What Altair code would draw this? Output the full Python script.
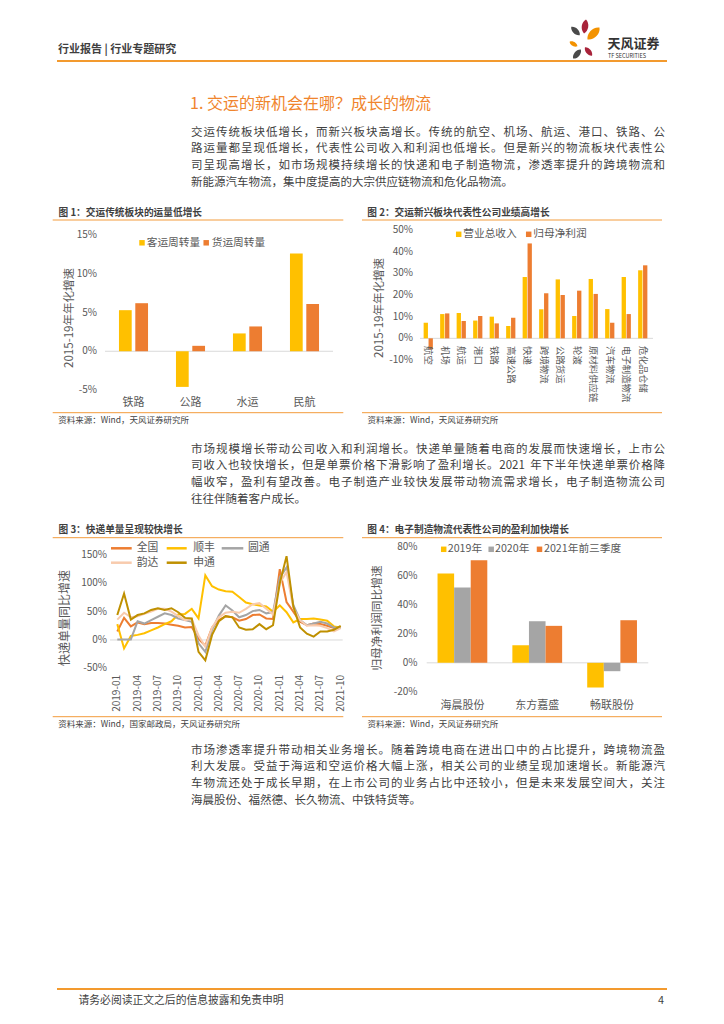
import re
import altair as alt
import pandas as pd

OFF = 8
FONT = "Noto Sans CJK SC"
YEL, ORA, GRY, PEACH, GOLD = "#FFC000", "#ED7D31", "#A5A5A5", "#F8CBAD", "#BF9000"
LINE_OR = "#F39C3C"
TXT = "#3F3F3F"
AX = "#595959"
ZERO = "#D9D9D9"

# ---------------- data ----------------
c1_cats = ["铁路", "公路", "水运", "民航"]
c1_series = ["客运周转量", "货运周转量"]
c1_passenger = [5.3, -4.6, 2.3, 12.6]
c1_freight = [6.2, 0.7, 3.2, 6.1]
c1_ticks = [-5, 0, 5, 10, 15]

c2_cats = ["航空", "机场", "航运", "港口", "铁路", "高速公路", "快递", "跨境物流",
           "公路货运", "轮渡", "原材料供应链", "汽车物流", "电子制造物流", "危化品仓储"]
c2_series = ["营业总收入", "归母净利润"]
c2_revenue = [7.2, 11.2, 11.7, 8.2, 10.0, 5.7, 28.3, 13.4, 27.2, 10.3, 27.4, 13.5, 28.3, 31.4]
c2_profit = [-5.1, 11.5, 8.0, 10.3, 6.9, 9.5, 43.8, 20.8, 20.0, 22.0, 20.5, 7.2, 11.2, 33.7]
c2_ticks = [-10, 0, 10, 20, 30, 40, 50]

c3_months = ["2019-01", "2019-02", "2019-03", "2019-04", "2019-05", "2019-06", "2019-07",
             "2019-08", "2019-09", "2019-10", "2019-11", "2019-12", "2020-01", "2020-02",
             "2020-03", "2020-04", "2020-05", "2020-06", "2020-07", "2020-08", "2020-09",
             "2020-10", "2020-11", "2020-12", "2021-01", "2021-02", "2021-03", "2021-04",
             "2021-05", "2021-06", "2021-07", "2021-08", "2021-09", "2021-10"]
c3_label_months = ["2019-01", "2019-04", "2019-07", "2019-10", "2020-01", "2020-04",
                   "2020-07", "2020-10", "2021-01", "2021-04", "2021-07", "2021-10"]
c3_series = ["全国", "顺丰", "圆通", "韵达", "申通"]
c3_national = [15, 39, 24, 31, 28, 30, 30, 29, 27, 25, 22, 23, 2, -10, 22, 35, 42, 40, 34, 37,
               44, 45, 38, 37, 125, 67, 50, 32, 26, 29, 28, 25, 21, 22]
c3_sf = [28, -15, 7, 9, 12, 17, 22, 28, 33, 45, 46, 55, 38, 114, 95, 89, 86, 85, 76, 66,
         63, 61, 59, 50, 61, 49, 31, 37, 37, 38, 36, 34, 24, 22]
c3_yto = [1, 1, 1, 33, 29, 35, 41, 47, 44, 38, 35, 32, -6, -21, 18, 43, 61, 52, 40, 44,
          51, 53, 47, 49, 110, 128, 62, 35, 26, 29, 32, 29, 22, 21]
c3_yunda = [36, 48, 40, 42, 46, 50, 55, 55, 50, 42, 35, 37, 8, -12, 22, 40, 48, 50, 48, 55,
            63, 65, 55, 45, 100, 120, 56, 35, 25, 26, 25, 21, 15, 21]
c3_sto = [44, 82, 36, 44, 47, 53, 56, 53, 56, 49, 39, 38, -21, -36, 9, 33, 42, 40, 22, 18,
          19, 28, 19, 26, 100, 148, 59, 22, 11, 6, 15, 15, 18, 25]
c3_ticks = [-50, 0, 50, 100, 150]

c4_cats = ["海晨股份", "东方嘉盛", "畅联股份"]
c4_series = ["2019年", "2020年", "2021年前三季度"]
c4_2019 = [61.8, 12.2, -17.1]
c4_2020 = [52.1, 28.8, -5.8]
c4_2021 = [71.0, 25.6, 29.5]
c4_ticks = [-20, 0, 20, 40, 60, 80]

para1 = ["交运传统板块低增长，而新兴板块高增长。传统的航空、机场、航运、港口、铁路、公",
         "路运量都呈现低增长，代表性公司收入和利润也低增长。但是新兴的物流板块代表性公",
         "司呈现高增长，如市场规模持续增长的快递和电子制造物流，渗透率提升的跨境物流和",
         "新能源汽车物流，集中度提高的大宗供应链物流和危化品物流。"]
para2 = ["市场规模增长带动公司收入和利润增长。快递单量随着电商的发展而快速增长，上市公",
         "司收入也较快增长，但是单票价格下滑影响了盈利增长。2021 年下半年快递单票价格降",
         "幅收窄，盈利有望改善。电子制造产业较快发展带动物流需求增长，电子制造物流公司",
         "往往伴随着客户成长。"]
para3 = ["市场渗透率提升带动相关业务增长。随着跨境电商在进出口中的占比提升，跨境物流盈",
         "利大发展。受益于海运和空运价格大幅上涨，相关公司的业绩呈现加速增长。新能源汽",
         "车物流还处于成长早期，在上市公司的业务占比中还较小，但是未来发展空间大，关注",
         "海晨股份、福然德、长久物流、中铁特货等。"]


def P(v):
    return v - OFF


def one():
    return alt.Data(values=[{"k": 1}])


def txt(text, x, y, size, color=TXT, align="left", weight="normal", angle=0):
    kw = dict(align=align, baseline="middle", fontSize=size, color=color,
              font=FONT, fontWeight=weight)
    if angle:
        kw["angle"] = angle
    return alt.Chart(alt.Data(values=[{"t": text}])).mark_text(**kw).encode(
        text="t:N", x=alt.value(P(x)), y=alt.value(P(y)))


def hline(x0, x1, y, color=LINE_OR, w=1.0):
    return alt.Chart(one()).mark_rule(color=color, strokeWidth=w).encode(
        x=alt.value(P(x0)), x2=alt.value(P(x1)), y=alt.value(P(y)))


def square(x, y, color, size=30):
    return alt.Chart(one()).mark_square(color=color, size=size, opacity=1).encode(
        x=alt.value(P(x)), y=alt.value(P(y)))


def petal(x, y, length, angle, color):
    path = "M0,-1 C0.62,-0.55 0.62,0.55 0,1 C-0.62,0.55 -0.62,-0.55 0,-1 Z"
    return alt.Chart(one()).mark_point(shape=path, filled=True, color=color, opacity=1,
                                       size=length * length, angle=angle, strokeWidth=0).encode(
        x=alt.value(P(x)), y=alt.value(P(y)))


def tok_w(t, fs):
    if t == " ":
        return 0.3 * fs
    if t.isascii():
        return 0.56 * fs * len(t)
    return fs


def para_layer(lines, x0, x1, ys, fs):
    rows = []
    for k, (line, y) in enumerate(zip(lines, ys)):
        toks = re.findall(r"[A-Za-z0-9.%]+| |.", line)
        ws = [tok_w(t, fs) for t in toks]
        gap = (x1 - x0 - sum(ws)) / (len(toks) - 1) if k < len(lines) - 1 else 0
        x = x0
        for t, w in zip(toks, ws):
            if t != " ":
                rows.append({"t": t, "x": P(x), "y": P(y)})
            x += w + gap
    return alt.Chart(pd.DataFrame(rows)).mark_text(
        align="left", baseline="middle", fontSize=fs, font=FONT, color=TXT).encode(
        x=alt.X("x:Q", scale=None, axis=None), y=alt.Y("y:Q", scale=None, axis=None), text="t:N")


def pct(v):
    return f"{v}%"


# ---------------- bar chart helper ----------------
def bar_chart(cats, series, values, colors, xr, pin, pout, opin, yd, yr, tick_x,
              zero_x, cat_y, cat_angle=0, cat_fs=11, tick_fs=10):
    rows = []
    for s, vals in zip(series, values):
        for c, v in zip(cats, vals):
            rows.append({"cat": c, "series": s, "v": v})
    df = pd.DataFrame(rows)
    xs = alt.Scale(domain=cats, range=[P(xr[0]), P(xr[1])], paddingInner=pin, paddingOuter=pout)
    ys = alt.Scale(domain=yd, range=[P(yr[0]), P(yr[1])], nice=False)
    zero = alt.Chart(alt.Data(values=[{"v": 0}])).mark_rule(color=ZERO, strokeWidth=1).encode(
        y=alt.Y("v:Q", scale=ys, axis=None), x=alt.value(P(zero_x[0])), x2=alt.value(P(zero_x[1])))
    bars = alt.Chart(df).mark_bar().encode(
        x=alt.X("cat:N", scale=xs, axis=None, sort=cats),
        xOffset=alt.XOffset("series:N", scale=alt.Scale(domain=series, paddingInner=opin,
                                                         paddingOuter=0), sort=series),
        y=alt.Y("v:Q", scale=ys, axis=None),
        color=alt.Color("series:N", scale=alt.Scale(domain=series, range=colors), legend=None),
    )
    tdf = pd.DataFrame({"v": ticks_for[id(values)], "lab": [pct(t) for t in ticks_for[id(values)]]})
    ticks = alt.Chart(tdf).mark_text(align="right", baseline="middle", fontSize=tick_fs,
                                     font=FONT, color=AX).encode(
        y=alt.Y("v:Q", scale=ys, axis=None), x=alt.value(P(tick_x)), text="lab:N")
    ckw = dict(baseline="middle", fontSize=cat_fs, font=FONT, color=AX)
    if cat_angle:
        ckw.update(angle=cat_angle, align="left")
    else:
        ckw.update(align="center")
    catl = alt.Chart(pd.DataFrame({"cat": cats})).mark_text(**ckw).encode(
        x=alt.X("cat:N", scale=xs, axis=None, sort=cats), y=alt.value(P(cat_y)), text="cat:N")
    return alt.layer(zero, bars, ticks, catl)


ticks_for = {}
v1 = [c1_passenger, c1_freight]
v2 = [c2_revenue, c2_profit]
v4 = [c4_2019, c4_2020, c4_2021]
ticks_for[id(v1)] = c1_ticks
ticks_for[id(v2)] = c2_ticks
ticks_for[id(v4)] = c4_ticks

chart1 = bar_chart(c1_cats, c1_series, v1, [YEL, ORA], (105, 333), 0.49, 0.245, 0.22,
                   [-5, 15], (390, 235), 97, (105, 333), 403, cat_fs=11)
chart2 = bar_chart(c2_cats, c2_series, v2, [YEL, ORA], (420, 651), 0.44, 0.22, 0.12,
                   [-10, 50], (360, 230), 413, (420, 653), 346, cat_angle=90, cat_fs=9.4)
chart4 = bar_chart(c4_cats, c4_series, v4, [YEL, GRY, ORA], (425, 649.5), 0.335, 0.1675, 0.0,
                   [-20, 80], (691.7, 547.3), 417.5, (426.7, 648.3), 705.7, cat_fs=11)

# ---------------- line chart ----------------
x3 = alt.Scale(type="point", domain=c3_months, range=[P(117.3), P(340.7)], padding=0)
y3 = alt.Scale(domain=[-50, 150], range=[P(668.3), P(555)], nice=False)
zero3 = alt.Chart(alt.Data(values=[{"v": 0}])).mark_rule(color=ZERO, strokeWidth=1).encode(
    y=alt.Y("v:Q", scale=y3, axis=None), x=alt.value(P(110)), x2=alt.value(P(342.7)))
line_layers = []
for name, vals, col in zip(c3_series, [c3_national, c3_sf, c3_yto, c3_yunda, c3_sto],
                           [ORA, YEL, GRY, PEACH, GOLD]):
    d = pd.DataFrame({"month": c3_months, "v": vals})
    line_layers.append(alt.Chart(d).mark_line(color=col, strokeWidth=2).encode(
        x=alt.X("month:O", scale=x3, axis=None, sort=c3_months),
        y=alt.Y("v:Q", scale=y3, axis=None)))
tick3 = alt.Chart(pd.DataFrame({"v": c3_ticks, "lab": [pct(t) for t in c3_ticks]})).mark_text(
    align="right", baseline="middle", fontSize=10, font=FONT, color=AX).encode(
    y=alt.Y("v:Q", scale=y3, axis=None), x=alt.value(P(107)), text="lab:N")
lab3 = alt.Chart(pd.DataFrame({"month": c3_label_months})).mark_text(
    align="right", baseline="middle", fontSize=10, font=FONT, color=AX, angle=270).encode(
    x=alt.X("month:O", scale=x3, axis=None, sort=c3_months), y=alt.value(P(675)), text="month:N")
chart3 = alt.layer(zero3, *line_layers, tick3, lab3)

# ---------------- decorations & text ----------------
deco = [
    # header
    txt("行业报告 | 行业专题研究", 58, 50, 11, weight="bold"),
    hline(57, 667, 61, color="#F39A2E", w=2),
    petal(575.5, 31, 12, 315, "#4A4A4A"),
    petal(585, 26.5, 14, 8, "#A8233A"),
    petal(593.5, 33.5, 17, 45, "#F39200"),
    petal(573.5, 44, 9, 300, "#F39200"),
    petal(577, 54, 12, 40, "#4A4A4A"),
    petal(588.5, 51.5, 11, 320, "#A8233A"),
    txt("天风证券", 607.5, 43.5, 13, color="#333333", weight="bold"),
    txt("TF SECURITIES", 608, 55.5, 5.5, color="#333333"),
    # heading
    txt("1. 交运的新机会在哪？成长的物流", 190, 103.5, 16, color="#F0852D"),
    para_layer(para1, 191, 665, [132.7, 149.4, 166.1, 182.8], 11.5),
    para_layer(para2, 191, 665, [449.5, 466.2, 483, 499.7], 11.5),
    para_layer(para3, 191, 665, [750.7, 767.4, 784.1, 800.8], 11.5),
    # chart titles and sources
    txt("图 1：交运传统板块的运量低增长", 58.5, 212.5, 9.7, weight="bold"),
    hline(52.7, 343.3, 220),
    txt("图 2：交运新兴板块代表性公司业绩高增长", 367.3, 212.5, 9.7, weight="bold"),
    hline(362, 662, 220),
    hline(52.7, 343.3, 412.7),
    txt("资料来源：Wind，天风证券研究所", 58.3, 419.5, 8.5),
    hline(362, 662, 412.7),
    txt("资料来源：Wind，天风证券研究所", 367.5, 419.5, 8.5),
    txt("图 3：快递单量呈现较快增长", 58.5, 530, 9.7, weight="bold"),
    hline(52.7, 343.3, 537.7),
    txt("图 4：电子制造物流代表性公司的盈利加快增长", 367.3, 530, 9.7, weight="bold"),
    hline(362, 662, 537.7),
    hline(52.7, 343.3, 716.7),
    txt("资料来源：Wind，国家邮政局，天风证券研究所", 58.3, 724.3, 8.5),
    hline(362, 662, 716.7),
    txt("资料来源：Wind，天风证券研究所", 367.5, 724.3, 8.5),
    # y-axis titles
    txt("2015-19年年化增速", 70, 318, 11.5, color=AX, align="center", angle=270),
    txt("2015-19年年化增速", 380, 308, 11.5, color=AX, align="center", angle=270),
    txt("快递单量同比增速", 65, 618, 12, color=AX, align="center", angle=270),
    txt("归母净利润同比增速", 377, 618, 11.7, color=AX, align="center", angle=270),
    # legends chart 1
    square(142, 242.8, YEL), txt("客运周转量", 146.7, 242.5, 10.7, color=AX),
    square(206.2, 242.8, ORA), txt("货运周转量", 211.7, 242.5, 10.7, color=AX),
    # legends chart 2
    square(458.7, 234.3, YEL), txt("营业总收入", 463.3, 234, 10.7, color=AX),
    square(528.7, 234.3, ORA), txt("归母净利润", 533.3, 234, 10.7, color=AX),
    # legends chart 3
    hline(111, 131.7, 548.3, color=ORA, w=2.5), txt("全国", 136.7, 548.3, 10.8, color=AX),
    hline(166.7, 186.7, 548.3, color=YEL, w=2.5), txt("顺丰", 193.3, 548.3, 10.8, color=AX),
    hline(221.7, 243.3, 548.3, color=GRY, w=2.5), txt("圆通", 248, 548.3, 10.8, color=AX),
    hline(111, 131.7, 562.7, color=PEACH, w=2.5), txt("韵达", 136.7, 562.7, 10.8, color=AX),
    hline(166.7, 186.7, 562.7, color=GOLD, w=2.5), txt("申通", 193.3, 562.7, 10.8, color=AX),
    # legends chart 4
    square(443.7, 549.3, YEL), txt("2019年", 447.7, 549, 10.7, color=AX),
    square(491.2, 549.3, GRY), txt("2020年", 495, 549, 10.7, color=AX),
    square(539.5, 549.3, ORA), txt("2021年前三季度", 544, 549, 10.7, color=AX),
    # footer
    hline(57, 667, 989, color="#F39A2E", w=2),
    txt("请务必阅读正文之后的信息披露和免责申明", 78.5, 1001, 10.8),
    txt("4", 664, 1001, 10.8, align="right"),
]

chart = alt.layer(*deco, chart1, chart2, chart3, chart4).resolve_scale(
    x="independent", y="independent", color="independent", xOffset="independent"
).properties(
    width=708, height=1004, padding=0, autosize=alt.AutoSizeParams(type="none"),
    background="white"
).configure_view(stroke=None)

chart.save("out.html", embed_options={"renderer": "svg", "actions": False})
